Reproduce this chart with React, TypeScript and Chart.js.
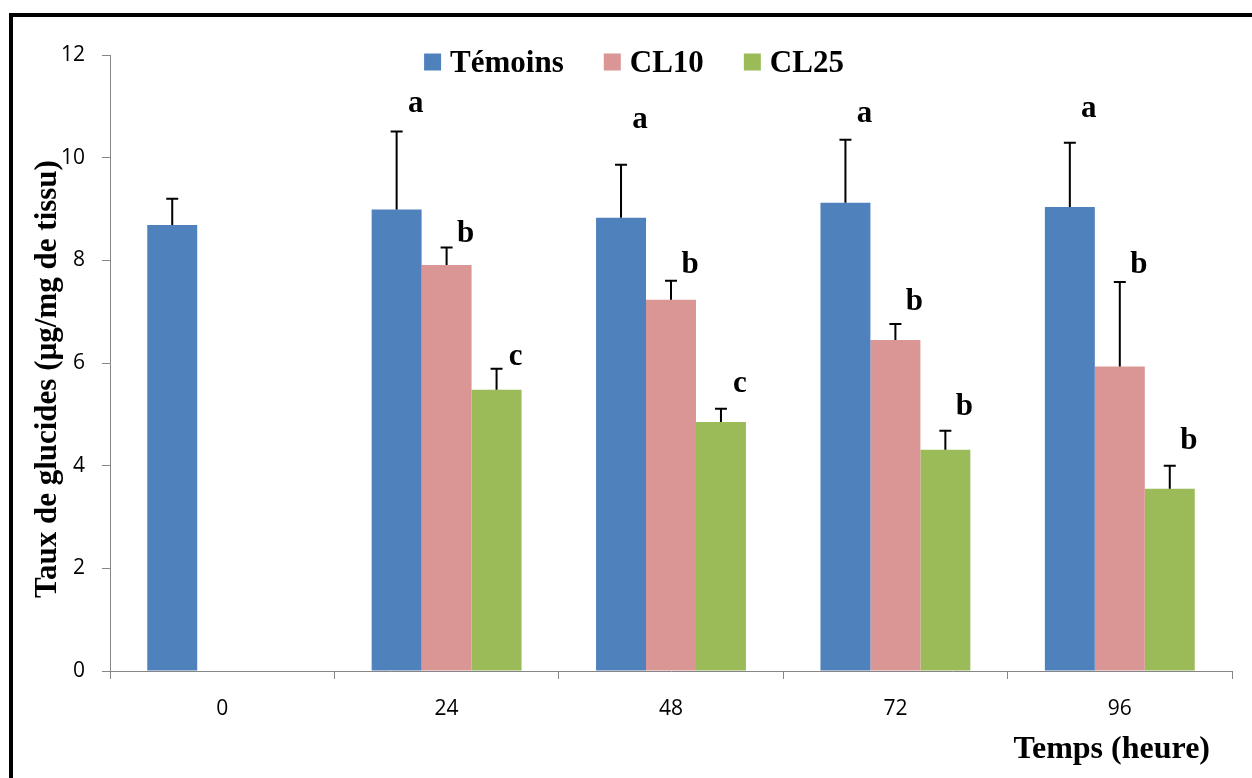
import React, { useEffect, useRef } from 'react';
import { Chart, registerables } from 'chart.js';

Chart.register(...registerables);

// ---- Data ----
const categories = ['0', '24', '48', '72', '96'];
const seriesNames = ['Témoins', 'CL10', 'CL25'];
const temoinsValues = [8.69, 8.99, 8.83, 9.12, 9.04];
const cl10Values = [0, 7.91, 7.23, 6.45, 5.93];
const cl25Values = [0, 5.48, 4.85, 4.31, 3.55];
const temoinsErrors = [0.51, 1.52, 1.03, 1.23, 1.25];
const cl10Errors = [0, 0.34, 0.37, 0.31, 1.65];
const cl25Errors = [0, 0.41, 0.26, 0.37, 0.45];
const temoinsLetters = ['', 'a', 'a', 'a', 'a'];
const cl10Letters = ['', 'b', 'b', 'b', 'b'];
const cl25Letters = ['', 'c', 'c', 'b', 'b'];
const temoinsLetterLevels = [0, 10.88, 10.58, 10.7, 10.8];
const cl10LetterLevels = [0, 8.36, 7.76, 7.04, 7.76];
const cl25LetterLevels = [0, 5.96, 5.44, 4.99, 4.33];
const yMin = 0;
const yMax = 12;
const yStep = 2;
const yTitle = 'Taux de glucides (µg/mg de tissu)';
const xTitle = 'Temps (heure)';
const seriesColors = ['#4F81BD', '#D99694', '#9BBB59'];

const allValues = [temoinsValues, cl10Values, cl25Values];
const allErrors = [temoinsErrors, cl10Errors, cl25Errors];
const allLetters = [temoinsLetters, cl10Letters, cl25Letters];
const allLetterLevels = [temoinsLetterLevels, cl10LetterLevels, cl25LetterLevels];

const SERIF = '"Liberation Serif", "Times New Roman", serif';
const SANS = '"Open Sans", "Noto Sans", sans-serif';
const AXIS_GRAY = '#868686';

const decorPlugin = {
  id: 'decor',
  afterDatasetsDraw(chart: any) {
    const ctx = chart.ctx;
    const yScale = chart.scales.y;
    ctx.save();
    chart.data.datasets.forEach((_ds: any, di: number) => {
      const meta = chart.getDatasetMeta(di);
      meta.data.forEach((bar: any, i: number) => {
        const v = allValues[di][i];
        const e = allErrors[di][i];
        if (v > 0) {
          const y0 = yScale.getPixelForValue(v);
          const y1 = yScale.getPixelForValue(v + e);
          ctx.strokeStyle = '#000';
          ctx.lineWidth = 2;
          ctx.beginPath();
          ctx.moveTo(bar.x, y0);
          ctx.lineTo(bar.x, y1);
          ctx.moveTo(bar.x - 6, y1);
          ctx.lineTo(bar.x + 6, y1);
          ctx.stroke();
        }
        const letter = allLetters[di][i];
        if (letter) {
          ctx.fillStyle = '#000';
          ctx.font = `bold 31px ${SERIF}`;
          ctx.textAlign = 'center';
          ctx.textBaseline = 'alphabetic';
          ctx.fillText(letter, bar.x + 19, yScale.getPixelForValue(allLetterLevels[di][i]));
        }
      });
    });
    ctx.restore();
  },
  afterDraw(chart: any) {
    const ctx = chart.ctx;
    ctx.save();
    // Legend
    ctx.font = `bold 31px ${SERIF}`;
    ctx.textBaseline = 'alphabetic';
    ctx.textAlign = 'left';
    const box = 17;
    const gapBoxText = 9;
    const gapItems = 40;
    const widths = seriesNames.map((n) => ctx.measureText(n).width);
    const total =
      widths.reduce((a, b) => a + b, 0) + seriesNames.length * (box + gapBoxText) + gapItems * (seriesNames.length - 1);
    let x = 634 - total / 2;
    const cy = 62;
    seriesNames.forEach((n, i) => {
      ctx.fillStyle = seriesColors[i];
      ctx.fillRect(x, cy - box / 2, box, box);
      x += box + gapBoxText;
      ctx.fillStyle = '#000';
      ctx.fillText(n, x, 71.5);
      x += widths[i] + gapItems;
    });
    // Y title
    ctx.save();
    ctx.translate(56, 379);
    ctx.rotate(-Math.PI / 2);
    ctx.font = `bold 31px ${SERIF}`;
    ctx.textAlign = 'center';
    ctx.textBaseline = 'alphabetic';
    ctx.fillStyle = '#000';
    ctx.fillText(yTitle, 0, 0);
    ctx.restore();
    // X title
    ctx.font = `bold 32px ${SERIF}`;
    ctx.textAlign = 'right';
    ctx.textBaseline = 'alphabetic';
    ctx.fillStyle = '#000';
    ctx.fillText(xTitle, 1210, 758);
    ctx.restore();
  },
};

export default function App() {
  const canvasRef = useRef<HTMLCanvasElement | null>(null);

  useEffect(() => {
    if (!canvasRef.current) return;
    const chart = new Chart(canvasRef.current, {
      type: 'bar',
      data: {
        labels: categories,
        datasets: seriesNames.map((name, i) => ({
          label: name,
          data: allValues[i],
          backgroundColor: seriesColors[i],
          borderWidth: 0,
          barPercentage: 1,
          categoryPercentage: 0.668,
        })),
      },
      options: {
        responsive: false,
        devicePixelRatio: 1,
        animation: false,
        layout: { padding: { left: 0, top: 55, right: 20, bottom: 0 } },
        plugins: {
          legend: { display: false },
          tooltip: { enabled: false },
          title: { display: false },
        },
        scales: {
          x: {
            grid: {
              display: true,
              drawOnChartArea: false,
              drawTicks: true,
              tickLength: 8,
              color: AXIS_GRAY,
              offset: true,
            },
            border: { display: true, color: AXIS_GRAY, width: 1 },
            ticks: { color: '#000', font: { family: SANS, size: 21 }, padding: 17 },
            afterFit: (scale: any) => {
              scale.height = 107;
            },
          },
          y: {
            min: yMin,
            max: yMax,
            grid: {
              display: true,
              drawOnChartArea: false,
              drawTicks: true,
              tickLength: 8,
              color: AXIS_GRAY,
            },
            border: { display: true, color: AXIS_GRAY, width: 1 },
            ticks: { stepSize: yStep, color: '#000', font: { family: SANS, size: 21 }, padding: 17 },
            afterFit: (scale: any) => {
              scale.width = 110;
            },
          },
        },
      },
      plugins: [decorPlugin],
    });
    return () => chart.destroy();
  }, []);

  return (
    <div
      style={{
        position: 'fixed',
        left: 0,
        top: 0,
        width: 1252,
        height: 778,
        overflow: 'hidden',
        background: '#fff',
      }}
    >
      <div
        style={{
          position: 'absolute',
          left: 9,
          top: 13,
          width: 1320,
          height: 840,
          border: '4.5px solid #000',
          boxSizing: 'border-box',
        }}
      />
      <canvas
        ref={canvasRef}
        width={1252}
        height={778}
        style={{ position: 'absolute', left: 0, top: 0, width: 1252, height: 778 }}
      />
    </div>
  );
}
